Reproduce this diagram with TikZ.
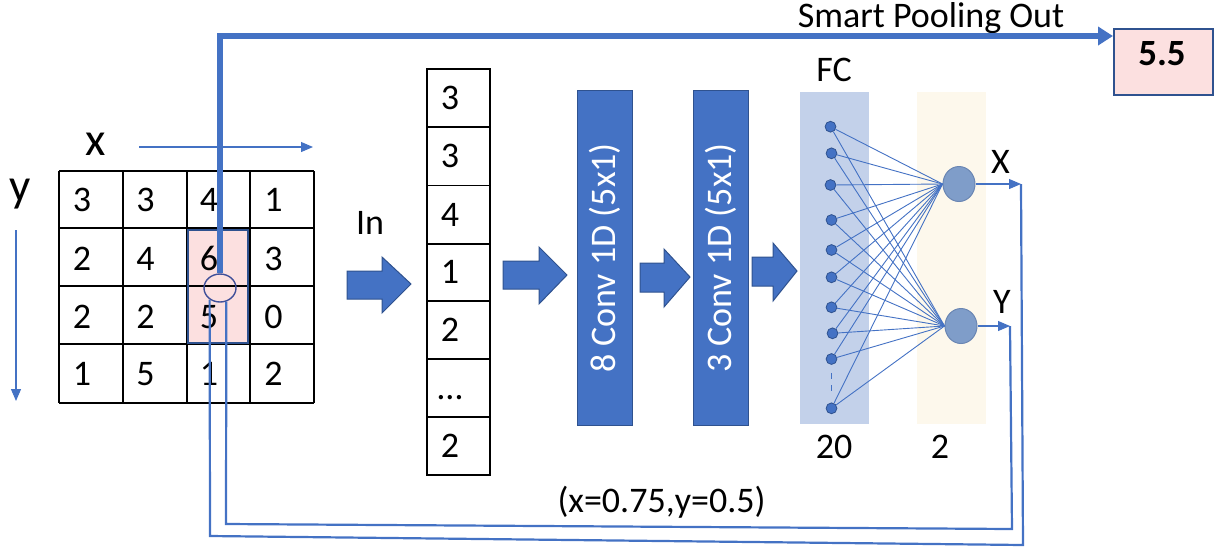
\documentclass[tikz,border=0pt]{standalone}
\usepackage{fontspec}
\setmainfont{Carlito}
\usetikzlibrary{arrows.meta,shapes.geometric}
\definecolor{pblue}{HTML}{4472C4}
\definecolor{dblue}{HTML}{2F528F}
\definecolor{fcpanel}{HTML}{C3D1EA}
\definecolor{outpanel}{HTML}{FDF8EC}
\definecolor{pinkf}{HTML}{FCE0E0}
\definecolor{outnode}{HTML}{7F9DC9}
\definecolor{outnodeb}{HTML}{6A86B3}
\definecolor{circcol}{HTML}{3F4F99}
\begin{document}
\begin{tikzpicture}[x=0.5pt,y=-0.5pt,
  txt/.style={font=\fontsize{18}{22}\selectfont, inner sep=0pt, anchor=base},
  bigtxt/.style={font=\fontsize{23.5}{28}\selectfont, inner sep=0pt, anchor=base},
  gridline/.style={line width=0.9pt, black},
  blockarrow/.style={fill=pblue, draw=dblue, line width=0.5pt, line join=miter},
  convbox/.style={fill=pblue, draw=dblue, line width=0.5pt, rotate=90,
     minimum width=167.5pt, minimum height=27.5pt, inner sep=0pt, text=white,
     font=\fontsize{18}{22}\selectfont},
  panel/.style={minimum width=34.5pt, minimum height=166pt, inner sep=0pt, anchor=north west},
  fcdot/.style={circle, fill=pblue, draw=dblue, line width=0.4pt, minimum size=5.4pt, inner sep=0pt},
  onode/.style={ellipse, fill=outnode, draw=outnodeb, line width=0.5pt, minimum width=16pt, minimum height=17.5pt, inner sep=0pt},
  conn/.style={pblue, line width=0.45pt},
  thinarrow/.style={pblue, line width=0.55pt, -{Triangle[length=6pt,width=5pt]}},
  loopline/.style={pblue, line width=1.1pt, line join=miter},
]
\useasboundingbox (0,0) rectangle (1217,548);

% ---------- grid ----------
\fill[pinkf] (188,230) rectangle (248,343);
\foreach \xx in {59,123,187,250,314} \draw[gridline] (\xx,171) -- (\xx,403);
\foreach \yy in {171,228,286,344,403} \draw[gridline] (59,\yy) -- (314,\yy);
\foreach \yy/\r/\a/\b/\c/\d in {211.5/1/3/3/4/1, 270/2/2/4/6/3, 328/3/2/2/5/0, 385/4/1/5/1/2}{
  \node[txt] (g\r-1) at (82,\yy) {\a};
  \node[txt] (g\r-2) at (145.5,\yy) {\b};
  \node[txt] (g\r-3) at (209,\yy) {\c};
  \node[txt] (g\r-4) at (273.5,\yy) {\d};
}
\draw[dblue, line width=0.6pt] (188,230) rectangle (248,343);
\node[ellipse, draw=circcol, line width=0.7pt, minimum width=16pt, minimum height=14pt, inner sep=0pt] (circ) at (220,288) {};

% axes
\node[bigtxt] (xlab) at (96,155) {x};
\node[bigtxt] (ylab) at (20,201) {y};
\coordinate (xa0) at (139,147); \coordinate (xa1) at (313,147);
\coordinate (ya0) at (16,230);  \coordinate (ya1) at (16,401);
\draw[thinarrow] (xa0) -- (xa1);
\draw[thinarrow] (ya0) -- (ya1);

% ---------- smart pooling out ----------
\node[draw=dblue, fill=pinkf, line width=0.75pt, minimum width=49.5pt, minimum height=33pt, inner sep=0pt, anchor=north west] (box55) at (1113,28) {};
\node[txt, font=\fontsize{18.5}{22}\selectfont\bfseries] (v55) at (1162,65) {5.5};
\node[txt] (splab) at (931,27) {Smart Pooling Out};
\coordinate (tc) at (218,36);
\draw[pblue, line width=2.75pt, -{Triangle[length=7.5pt,width=9pt]}] (circ.north) |- (box55.west |- tc);

% ---------- input arrow & vector ----------
\node[txt] (inlab) at (370,234) {In};
\draw[blockarrow] (347,271) -- (382,271) -- (382,257) -- (411,284) -- (382,313) -- (382,299) -- (347,299) -- cycle;
\foreach \ya/\yb in {69/127,127/185.5,185.5/244,244/301,301/359,359/417,417/475}
  \draw[gridline] (427,\ya) rectangle (490,\yb);
\foreach \v/\yy [count=\i] in {3/109,3/167.5,4/226,1/283.5,2/341,\dots/399,2/457}
  \node[txt] (vec\i) at (450,\yy) {\v};

% ---------- conv blocks ----------
\draw[blockarrow] (503,261) -- (539,261) -- (539,247) -- (567,275) -- (539,304) -- (539,289) -- (503,289) -- cycle;
\node[convbox] (conv1) at (605,258) {8 Conv 1D (5x1)};
\draw[blockarrow] (640,263) -- (664,263) -- (664,249) -- (690,277) -- (664,307) -- (664,292) -- (640,292) -- cycle;
\node[convbox] (conv2) at (720.5,258) {3 Conv 1D (5x1)};
\draw[blockarrow] (752,257) -- (773,257) -- (773,243) -- (797,271) -- (773,301) -- (773,286) -- (752,286) -- cycle;

% ---------- FC ----------
\node[panel, fill=fcpanel] (fcp) at (800,92) {};
\node[panel, fill=outpanel] (outp) at (917,92) {};
\node[txt] (fclab) at (834,81) {FC};
\node[txt] (n20) at (834,458) {20};
\node[txt] (n2) at (940,458) {2};

\node[onode] (ox) at (959,184) {};
\node[onode] (oy) at (961,326) {};
\foreach \yy/\xx [count=\i] in {126.7/830.5,153.3/831.5,185/830.5,220/831.5,250/831.5,277.3/831.5,307.3/831.5,333.3/832.5,359/831.5,408.3/831.5}
  \node[fcdot] (d\i) at (\xx,\yy) {};
\foreach \i in {1,...,10}{
  \draw[conn] (d\i) -- (ox.west);
  \draw[conn] (d\i) -- (oy.west);
}
\draw[pblue, line width=0.4pt, dashed, shorten <=4pt, shorten >=3pt] (d9) -- (d10);

\node[txt] (xout) at (1000.5,173) {X};
\node[txt] (yout) at (1002,313) {Y};
\coordinate (xt) at (1021,184);
\coordinate (yt) at (1010,326);
\draw[thinarrow] (ox) -- (xt);
\draw[thinarrow] (oy) -- (yt);

% ---------- loops back ----------
\coordinate (oc1) at (1023,545);
\coordinate (oc2) at (210,536);
\coordinate (ic1) at (1012,529);
\coordinate (ic2) at (226,524);
\draw[loopline] (xt) -- (oc1) -- (oc2) -- (circ.228);
\draw[loopline] (yt) -- (ic1) -- (ic2) -- (circ.295);
\node[txt] (coord) at (661.5,512) {(x=0.75,y=0.5)};
\end{tikzpicture}
\end{document}
